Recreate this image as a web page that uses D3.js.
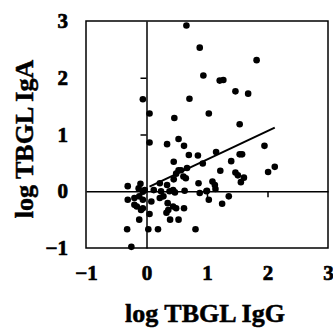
<!DOCTYPE html>
<html>
<head>
<meta charset="utf-8">
<script src="https://cdn.jsdelivr.net/npm/d3@7"></script>
<style>
  body { margin: 0; background: #fff; }
  .axis path, .axis line { stroke: #000; stroke-width: 1.5; }
</style>
</head>
<body>
<svg width="333" height="332"></svg>
<script>
// log TBGL IgG (x) vs log TBGL IgA (y)
const igG = [0.66, 0.88, 0.94, 1.82, 1.21, 1.27, 1.47, 1.68, -0.06, 0.71,
  1.03, 0.05, 0.46, 1.54, 0.05, 0.34, 0.53, 0.62, 1.95, 1.15,
  1.54, 1.58, 1.40, 0.93, 1.22, 2.12, 2.01, 1.47, 1.51, 1.61,
  1.56, 1.09, 1.13, 1.14, 0.86, 1.00, 0.88, 1.03, 1.36, 1.25,
  0.70, 0.85, 0.45, 0.67, 0.53, 0.57, 0.49, 0.61, 0.65, 0.45,
  0.22, 0.34, -0.31, -0.10, -0.13, -0.06, -0.03, 0.12, 0.24, 0.38,
  0.44, 0.47, 0.63, -0.31, -0.20, -0.12, -0.06, 0.08, 0.22, 0.28,
  -0.20, -0.16, -0.06, -0.09, 0.35, 0.44, 0.49, 0.36, 0.62, 0.33,
  0.05, -0.12, 0.39, 0.53, -0.32, 0.03, 0.19, 0.81, -0.25, 0.99];
const igA = [2.92, 2.53, 2.04, 2.31, 1.95, 1.96, 1.76, 1.72, 1.62, 1.63,
  1.37, 1.37, 1.29, 1.18, 0.86, 0.83, 0.92, 0.80, 0.80, 0.69,
  0.65, 0.65, 0.53, 0.49, 0.36, 0.43, 0.34, 0.33, 0.28, 0.24,
  0.16, 0.17, 0.11, 0.04, 0.14, 0.01, -0.03, -0.15, -0.09, -0.22,
  0.64, 0.63, 0.52, 0.41, 0.37, 0.37, 0.31, 0.26, 0.23, 0.21,
  0.14, 0.11, 0.09, 0.13, 0.05, -0.01, 0.02, 0.02, 0.00, 0.00,
  0.02, -0.02, 0.01, -0.15, -0.12, -0.09, -0.15, -0.18, -0.12, -0.09,
  -0.24, -0.27, -0.30, -0.33, -0.21, -0.27, -0.30, -0.33, -0.30, -0.38,
  -0.40, -0.50, -0.50, -0.50, -0.67, -0.67, -0.67, -0.67, -0.98, 0.00];
// regression line end points
const fitX = [0.05, 2.12];
const fitY = [0.08, 1.12];
const tickLabels = [-1, 0, 1, 2, 3];

const margin = {top: 21, right: 5, bottom: 84, left: 86};
const width = 333 - margin.left - margin.right;
const height = 332 - margin.top - margin.bottom;
const serif = "'Liberation Serif', 'Times New Roman', serif";

const svg = d3.select("svg").append("g")
  .attr("transform", "translate(" + margin.left + "," + margin.top + ")");

const x = d3.scaleLinear().domain([-1, 3]).range([0, width]);
const y = d3.scaleLinear().domain([-1, 3]).range([height, 0]);

// frame
svg.append("rect")
  .attr("width", width).attr("height", height)
  .attr("fill", "none").attr("stroke", "#000").attr("stroke-width", 1.5);

// outer tick labels
function styleLabels(g) {
  g.select(".domain").remove();
  g.attr("font-family", serif).attr("font-size", 21).attr("font-weight", "bold");
  g.selectAll("text").attr("fill", "#000").attr("stroke", "#000").attr("stroke-width", 0.7);
}

svg.append("g")
  .call(d3.axisLeft(y).tickValues(tickLabels).tickSize(0).tickPadding(18).tickFormat(d3.format("d")))
  .call(styleLabels);

svg.append("g")
  .attr("transform", "translate(0," + height + ")")
  .call(d3.axisBottom(x).tickValues(tickLabels).tickSize(0).tickPadding(17).tickFormat(d3.format("d")))
  .call(styleLabels);

// zero lines with small ticks
svg.append("g")
  .attr("class", "axis")
  .attr("transform", "translate(" + x(0) + ",0)")
  .call(d3.axisLeft(y).tickValues([1, 2]).tickSize(6).tickSizeOuter(0).tickFormat(""));

svg.append("g")
  .attr("class", "axis")
  .attr("transform", "translate(0," + y(0) + ")")
  .call(d3.axisBottom(x).tickValues([1, 2]).tickSize(6).tickSizeOuter(0).tickFormat(""));

// points
svg.append("g")
  .selectAll("circle")
  .data(d3.zip(igG, igA))
  .join("circle")
  .attr("cx", d => x(d[0]))
  .attr("cy", d => y(d[1]))
  .attr("r", 3.3)
  .attr("fill", "#000");

// regression line
svg.append("path")
  .datum(d3.zip(fitX, fitY))
  .attr("d", d3.line().x(d => x(d[0])).y(d => y(d[1])))
  .attr("stroke", "#000").attr("stroke-width", 2).attr("fill", "none");

// axis titles
svg.append("text")
  .attr("x", 205 - margin.left)
  .attr("y", 322 - margin.top)
  .attr("text-anchor", "middle")
  .attr("font-family", serif).attr("font-weight", "bold").attr("font-size", 26)
  .attr("stroke", "#000").attr("stroke-width", 0.5)
  .text("log TBGL IgG");

svg.append("text")
  .attr("transform", "rotate(-90)")
  .attr("x", -(139 - margin.top))
  .attr("y", 33 - margin.left)
  .attr("text-anchor", "middle")
  .attr("font-family", serif).attr("font-weight", "bold").attr("font-size", 26)
  .attr("stroke", "#000").attr("stroke-width", 0.5)
  .text("log TBGL IgA");
</script>
</body>
</html>
